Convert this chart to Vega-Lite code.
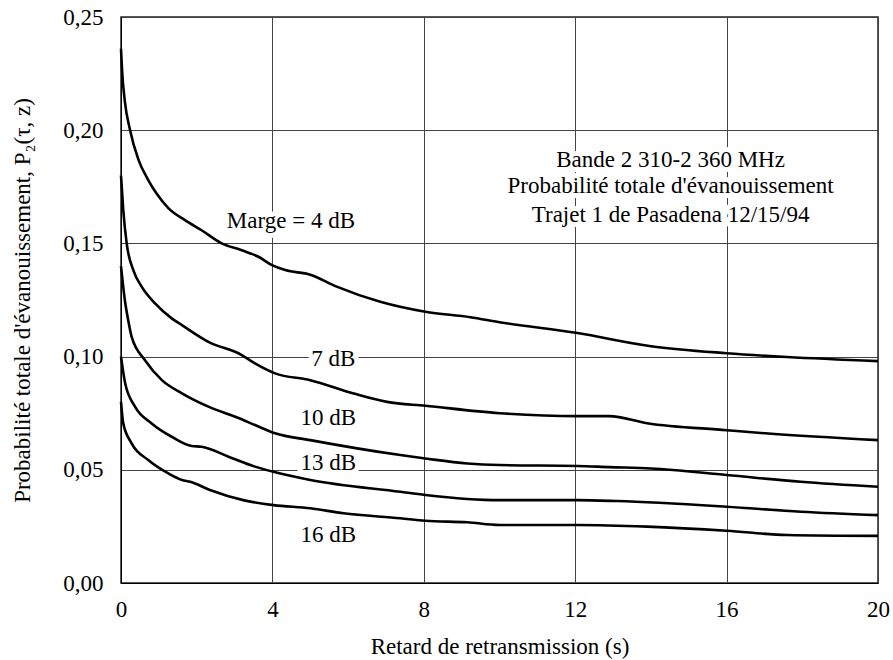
{
  "$schema": "https://vega.github.io/schema/vega-lite/v6.json",
  "width": 757,
  "height": 566,
  "autosize": {"type": "none"},
  "padding": {"left": 121, "top": 17, "right": 15, "bottom": 77},
  "background": "white",
  "config": {
    "view": {"stroke": "#222", "strokeWidth": 1.5},
    "axis": {
      "labelFont": "Liberation Serif",
      "titleFont": "Liberation Serif",
      "labelFontSize": 23,
      "titleFontSize": 23,
      "labelColor": "#000",
      "titleColor": "#000",
      "titleFontWeight": "normal",
      "domainColor": "#000",
      "domainWidth": 1,
      "gridColor": "#444",
      "gridWidth": 1,
      "gridOpacity": 1,
      "ticks": false,
      "tickSize": 0
    }
  },
  "datasets": {
    "curves": [
      {"marge": "4 dB", "t": 0, "p": 0.236},
      {"marge": "4 dB", "t": 0.03, "p": 0.226},
      {"marge": "4 dB", "t": 0.1, "p": 0.213},
      {"marge": "4 dB", "t": 0.24, "p": 0.2},
      {"marge": "4 dB", "t": 0.46, "p": 0.187},
      {"marge": "4 dB", "t": 0.72, "p": 0.178},
      {"marge": "4 dB", "t": 0.94, "p": 0.172},
      {"marge": "4 dB", "t": 1.25, "p": 0.1656},
      {"marge": "4 dB", "t": 1.69, "p": 0.1603},
      {"marge": "4 dB", "t": 2.13, "p": 0.1558},
      {"marge": "4 dB", "t": 2.66, "p": 0.15},
      {"marge": "4 dB", "t": 3.19, "p": 0.147},
      {"marge": "4 dB", "t": 3.63, "p": 0.1441},
      {"marge": "4 dB", "t": 3.99, "p": 0.1404},
      {"marge": "4 dB", "t": 4.34, "p": 0.1382},
      {"marge": "4 dB", "t": 5.0, "p": 0.1362},
      {"marge": "4 dB", "t": 5.7, "p": 0.1309},
      {"marge": "4 dB", "t": 6.85, "p": 0.1242},
      {"marge": "4 dB", "t": 8.04, "p": 0.1198},
      {"marge": "4 dB", "t": 9.23, "p": 0.1174},
      {"marge": "4 dB", "t": 10.0, "p": 0.1152},
      {"marge": "4 dB", "t": 12.06, "p": 0.1104},
      {"marge": "4 dB", "t": 14.0, "p": 0.1046},
      {"marge": "4 dB", "t": 16.0, "p": 0.1015},
      {"marge": "4 dB", "t": 17.6, "p": 0.0998},
      {"marge": "4 dB", "t": 20, "p": 0.098},
      {"marge": "7 dB", "t": 0, "p": 0.18},
      {"marge": "7 dB", "t": 0.06, "p": 0.1647},
      {"marge": "7 dB", "t": 0.15, "p": 0.15},
      {"marge": "7 dB", "t": 0.33, "p": 0.138},
      {"marge": "7 dB", "t": 0.55, "p": 0.1308},
      {"marge": "7 dB", "t": 0.9, "p": 0.1235},
      {"marge": "7 dB", "t": 1.34, "p": 0.1169},
      {"marge": "7 dB", "t": 1.61, "p": 0.1139},
      {"marge": "7 dB", "t": 2.31, "p": 0.1065},
      {"marge": "7 dB", "t": 3.19, "p": 0.1007},
      {"marge": "7 dB", "t": 3.54, "p": 0.097},
      {"marge": "7 dB", "t": 4.07, "p": 0.0926},
      {"marge": "7 dB", "t": 5.0, "p": 0.0896},
      {"marge": "7 dB", "t": 6.15, "p": 0.0837},
      {"marge": "7 dB", "t": 7.03, "p": 0.08},
      {"marge": "7 dB", "t": 8.04, "p": 0.0783},
      {"marge": "7 dB", "t": 10.0, "p": 0.075},
      {"marge": "7 dB", "t": 12.06, "p": 0.0737},
      {"marge": "7 dB", "t": 12.9, "p": 0.0737},
      {"marge": "7 dB", "t": 13.9, "p": 0.0706},
      {"marge": "7 dB", "t": 16.0, "p": 0.0675},
      {"marge": "7 dB", "t": 17.1, "p": 0.066},
      {"marge": "7 dB", "t": 20, "p": 0.0631},
      {"marge": "10 dB", "t": 0, "p": 0.14},
      {"marge": "10 dB", "t": 0.11, "p": 0.124},
      {"marge": "10 dB", "t": 0.19, "p": 0.1161},
      {"marge": "10 dB", "t": 0.28, "p": 0.1088},
      {"marge": "10 dB", "t": 0.63, "p": 0.0985},
      {"marge": "10 dB", "t": 1.08, "p": 0.0896},
      {"marge": "10 dB", "t": 1.61, "p": 0.0838},
      {"marge": "10 dB", "t": 2.31, "p": 0.0779},
      {"marge": "10 dB", "t": 3.02, "p": 0.0734},
      {"marge": "10 dB", "t": 3.54, "p": 0.0698},
      {"marge": "10 dB", "t": 4.07, "p": 0.0661},
      {"marge": "10 dB", "t": 5.0, "p": 0.0631},
      {"marge": "10 dB", "t": 7.38, "p": 0.0565},
      {"marge": "10 dB", "t": 8.04, "p": 0.055},
      {"marge": "10 dB", "t": 9.15, "p": 0.0528},
      {"marge": "10 dB", "t": 10.0, "p": 0.0521},
      {"marge": "10 dB", "t": 12.06, "p": 0.0517},
      {"marge": "10 dB", "t": 12.9, "p": 0.0512},
      {"marge": "10 dB", "t": 14.0, "p": 0.0506},
      {"marge": "10 dB", "t": 16.0, "p": 0.0477},
      {"marge": "10 dB", "t": 17.96, "p": 0.0447},
      {"marge": "10 dB", "t": 20, "p": 0.0425},
      {"marge": "13 dB", "t": 0, "p": 0.1},
      {"marge": "13 dB", "t": 0.11, "p": 0.0882},
      {"marge": "13 dB", "t": 0.37, "p": 0.0779},
      {"marge": "13 dB", "t": 0.81, "p": 0.0705},
      {"marge": "13 dB", "t": 1.34, "p": 0.0646},
      {"marge": "13 dB", "t": 1.87, "p": 0.0605},
      {"marge": "13 dB", "t": 2.13, "p": 0.0602},
      {"marge": "13 dB", "t": 2.84, "p": 0.0558},
      {"marge": "13 dB", "t": 3.54, "p": 0.0514},
      {"marge": "13 dB", "t": 4.03, "p": 0.0491},
      {"marge": "13 dB", "t": 5.0, "p": 0.0455},
      {"marge": "13 dB", "t": 7.38, "p": 0.0403},
      {"marge": "13 dB", "t": 8.04, "p": 0.0389},
      {"marge": "13 dB", "t": 10.0, "p": 0.0366},
      {"marge": "13 dB", "t": 12.06, "p": 0.0366},
      {"marge": "13 dB", "t": 13.1, "p": 0.0362},
      {"marge": "13 dB", "t": 16.0, "p": 0.0337},
      {"marge": "13 dB", "t": 17.96, "p": 0.0315},
      {"marge": "13 dB", "t": 20, "p": 0.03},
      {"marge": "16 dB", "t": 0, "p": 0.08},
      {"marge": "16 dB", "t": 0.06, "p": 0.0705},
      {"marge": "16 dB", "t": 0.28, "p": 0.0617},
      {"marge": "16 dB", "t": 0.72, "p": 0.0543},
      {"marge": "16 dB", "t": 1.25, "p": 0.0484},
      {"marge": "16 dB", "t": 1.61, "p": 0.0455},
      {"marge": "16 dB", "t": 1.83, "p": 0.0447},
      {"marge": "16 dB", "t": 2.35, "p": 0.0411},
      {"marge": "16 dB", "t": 3.23, "p": 0.0366},
      {"marge": "16 dB", "t": 4.03, "p": 0.0344},
      {"marge": "16 dB", "t": 5.0, "p": 0.033},
      {"marge": "16 dB", "t": 5.88, "p": 0.0308},
      {"marge": "16 dB", "t": 7.38, "p": 0.0286},
      {"marge": "16 dB", "t": 8.04, "p": 0.0275},
      {"marge": "16 dB", "t": 9.15, "p": 0.0268},
      {"marge": "16 dB", "t": 10.0, "p": 0.0256},
      {"marge": "16 dB", "t": 12.06, "p": 0.0256},
      {"marge": "16 dB", "t": 13.9, "p": 0.0249},
      {"marge": "16 dB", "t": 16.0, "p": 0.0231},
      {"marge": "16 dB", "t": 17.6, "p": 0.0212},
      {"marge": "16 dB", "t": 20, "p": 0.0208}
    ],
    "labels": [
      {"label": "Marge = 4 dB", "t": 4.49, "p": 0.1567},
      {"label": "7 dB", "t": 5.61, "p": 0.0958},
      {"label": "10 dB", "t": 5.48, "p": 0.0698},
      {"label": "13 dB", "t": 5.48, "p": 0.0499},
      {"label": "16 dB", "t": 5.48, "p": 0.0182},
      {"label": "Bande 2 310-2 360 MHz", "t": 14.52, "p": 0.1838},
      {"label": "Probabilité totale d'évanouissement", "t": 14.52, "p": 0.1721},
      {"label": "Trajet 1 de Pasadena 12/15/94", "t": 14.52, "p": 0.1595}
    ]
  },
  "encoding": {
    "x": {
      "field": "t",
      "type": "quantitative",
      "scale": {"domain": [0, 20], "nice": false},
      "axis": {
        "values": [0, 4, 8, 12, 16, 20],
        "title": "Retard de retransmission (s)",
        "labelFlush": false,
        "labelPadding": 15,
        "titleBaseline": "alphabetic",
        "titleY": 70,
        "grid": true
      }
    },
    "y": {
      "field": "p",
      "type": "quantitative",
      "scale": {"domain": [0, 0.25], "nice": false},
      "axis": {
        "values": [0, 0.05, 0.1, 0.15, 0.2, 0.25],
        "labelExpr": "replace(format(datum.value, '.2f'), '.', ',')",
        "title": "Probabilité totale d'évanouissement, P₂(τ, z)",
        "labelPadding": 18,
        "labelFlush": false,
        "titleBaseline": "alphabetic",
        "titleX": -92,
        "grid": true
      }
    }
  },
  "layer": [
    {
      "data": {"name": "labels"},
      "mark": {"type": "text", "font": "Liberation Serif", "fontSize": 23, "align": "center", "baseline": "alphabetic", "fill": "white", "stroke": "white", "strokeWidth": 10, "strokeJoin": "round"},
      "encoding": {"text": {"field": "label"}}
    },
    {
      "data": {"name": "curves"},
      "mark": {"type": "line", "color": "black", "strokeWidth": 2.6, "interpolate": "monotone"},
      "encoding": {"detail": {"field": "marge"}}
    },
    {
      "data": {"name": "labels"},
      "mark": {"type": "text", "font": "Liberation Serif", "fontSize": 23, "align": "center", "baseline": "alphabetic", "color": "black"},
      "encoding": {"text": {"field": "label"}}
    }
  ]
}
